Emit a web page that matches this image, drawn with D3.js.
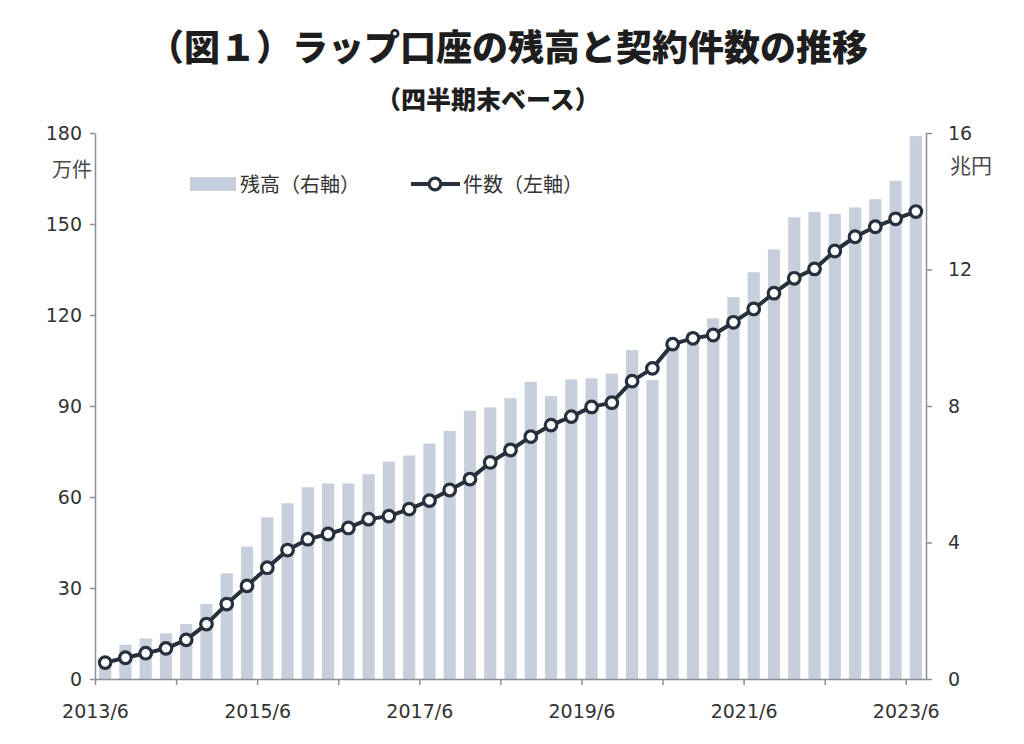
<!DOCTYPE html>
<html><head><meta charset="utf-8">
<script src="https://cdn.jsdelivr.net/npm/d3@7"></script>
<style>
html,body{margin:0;padding:0;background:#fff;}
svg{display:block;}
</style></head>
<body>
<svg id="chart" width="1024" height="744"></svg>
<script>
const categories = ["2013/6","2013/9","2013/12","2014/3","2014/6","2014/9","2014/12","2015/3",
"2015/6","2015/9","2015/12","2016/3","2016/6","2016/9","2016/12","2017/3",
"2017/6","2017/9","2017/12","2018/3","2018/6","2018/9","2018/12","2019/3",
"2019/6","2019/9","2019/12","2020/3","2020/6","2020/9","2020/12","2021/3",
"2021/6","2021/9","2021/12","2022/3","2022/6","2022/9","2022/12","2023/3","2023/6"];
// 残高（兆円, right axis)
const balance = [0.6,1.0,1.19,1.34,1.61,2.2,3.1,3.88,4.74,5.15,5.62,5.73,5.73,6.0,6.37,6.55,
6.9,7.27,7.86,7.96,8.23,8.71,8.29,8.78,8.81,8.95,9.64,8.76,9.75,10.1,10.57,11.19,
11.92,12.59,13.53,13.69,13.63,13.82,14.06,14.6,15.91];
// 件数（万件, left axis)
const contracts = [5.4,7.0,8.5,10.1,12.9,18.1,24.7,30.7,36.7,42.5,46.1,47.8,49.8,52.7,53.7,56.0,
58.8,62.3,65.9,71.4,75.5,79.9,83.7,86.5,89.7,91.1,98.2,102.4,110.4,112.3,113.4,117.6,
122.0,127.2,132.1,135.2,141.1,145.8,149.1,151.7,154.1];
const leftTicks = [0,30,60,90,120,150,180];
const rightTicks = [0,4,8,12,16];
const xLabelEvery = 8;
const xTickEvery = 4;

const title = "（図１）ラップ口座の残高と契約件数の推移";
const subtitle = "（四半期末ベース）";
const leftUnit = "万件";
const rightUnit = "兆円";
const legendBar = "残高（右軸）";
const legendLine = "件数（左軸）";

const L = 95, R = 926, T = 133, B = 679;
const jp = "'Noto Sans CJK JP','Noto Sans',sans-serif";
const num = "'DejaVu Sans',Verdana,sans-serif";
const axisColor = "#8a8f96";
const textColor = "#333333";
const barColor = "#c8cfdc";
const lineColor = "#26313d";

const svg = d3.select("#chart");

const x = d3.scaleBand().domain(categories).range([L, R]).paddingInner(0.4).paddingOuter(0.2);
const xi = d3.scaleLinear().domain([0, categories.length]).range([L, R]);
const yL = d3.scaleLinear().domain([0, 180]).range([B, T]);
const yR = d3.scaleLinear().domain([0, 16]).range([B, T]);

// bars
svg.append("g").selectAll("rect").data(balance).join("rect")
  .attr("x", (d, i) => x(categories[i]))
  .attr("width", x.bandwidth())
  .attr("y", d => yR(d))
  .attr("height", d => yR(0) - yR(d))
  .attr("fill", barColor);

// axes
function styleAxis(g) {
  g.select(".domain").attr("stroke", axisColor).attr("stroke-width", 1.5);
  g.selectAll(".tick line").attr("stroke", axisColor).attr("stroke-width", 1.5);
  g.selectAll(".tick text").attr("fill", textColor).attr("font-family", num).attr("font-size", 19);
}
const gL = svg.append("g").attr("transform", `translate(${L},0)`)
  .call(d3.axisLeft(yL).tickValues(leftTicks).tickSize(5).tickPadding(8).tickSizeOuter(0));
styleAxis(gL);
const gR = svg.append("g").attr("transform", `translate(${R},0)`)
  .call(d3.axisRight(yR).tickValues(rightTicks).tickSize(6).tickPadding(16).tickSizeOuter(0));
styleAxis(gR);
const tickIdx = d3.range(0, categories.length, xTickEvery);
const gB = svg.append("g").attr("transform", `translate(0,${B})`)
  .call(d3.axisBottom(xi).tickValues(tickIdx).tickSize(6).tickPadding(20).tickSizeOuter(0)
    .tickFormat(i => i % xLabelEvery === 0 ? categories[i] : ""));
styleAxis(gB);

// line
const cx = i => x(categories[i]) + x.bandwidth() / 2;
const line = d3.line().x((d, i) => cx(i)).y(d => yL(d));
svg.append("path").datum(contracts).attr("d", line)
  .attr("fill", "none").attr("stroke", lineColor).attr("stroke-width", 4).attr("stroke-linejoin", "round");
svg.append("g").selectAll("circle").data(contracts).join("circle")
  .attr("cx", (d, i) => cx(i)).attr("cy", d => yL(d)).attr("r", 5.8)
  .attr("fill", "#fff").attr("stroke", lineColor).attr("stroke-width", 3.2);

// units
svg.append("text").attr("x", L - 3).attr("y", 177).attr("text-anchor", "end")
  .attr("font-family", jp).attr("font-size", 20).attr("fill", "#4a4a4a").text(leftUnit);
svg.append("text").attr("x", R + 24).attr("y", 173)
  .attr("font-family", jp).attr("font-size", 21).attr("fill", "#4a4a4a").text(rightUnit);

// title
svg.append("text").attr("x", 508).attr("y", 61).attr("text-anchor", "middle")
  .attr("font-family", jp).attr("font-weight", 900).attr("font-size", 36).attr("fill", "#1e1e1e").text(title);
svg.append("text").attr("x", 488).attr("y", 109).attr("text-anchor", "middle")
  .attr("font-family", jp).attr("font-weight", 900).attr("font-size", 25).attr("fill", "#1e1e1e").text(subtitle);

// legend
const lg = svg.append("g");
lg.append("rect").attr("x", 190).attr("y", 177).attr("width", 46).attr("height", 14).attr("fill", barColor);
lg.append("text").attr("x", 240).attr("y", 192).attr("font-family", jp).attr("font-size", 20)
  .attr("fill", textColor).text(legendBar);
lg.append("line").attr("x1", 411).attr("x2", 460).attr("y1", 184).attr("y2", 184)
  .attr("stroke", lineColor).attr("stroke-width", 4);
lg.append("circle").attr("cx", 435).attr("cy", 184).attr("r", 5.8)
  .attr("fill", "#fff").attr("stroke", lineColor).attr("stroke-width", 3.2);
lg.append("text").attr("x", 463).attr("y", 192).attr("font-family", jp).attr("font-size", 20)
  .attr("fill", textColor).text(legendLine);
</script>
</body></html>
